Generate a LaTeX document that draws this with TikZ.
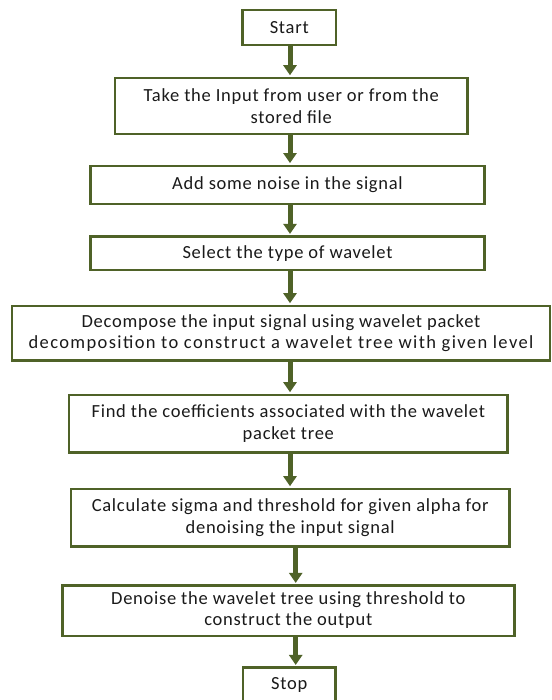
\documentclass[tikz,border=0pt]{standalone}
\usepackage{fontspec}
\setmainfont{Carlito}[LetterSpace=4]
\usetikzlibrary{arrows.meta}
\definecolor{boxgreen}{HTML}{4F6228}
\definecolor{txt}{HTML}{1A1A1A}
\begin{document}
\begin{tikzpicture}[x=1pt,y=-1pt,
  box/.style={draw=boxgreen, line width=2.5pt, rectangle, align=center,
    inner sep=0pt, text=txt, font=\fontsize{18.5}{21.7}\selectfont},
  flow/.style={draw=boxgreen, line width=5pt,
    -{Triangle[width=13pt,length=10pt]}, shorten >=1.5pt}]
\useasboundingbox (0,0) rectangle (551,700);
\fill[white] (0,0) rectangle (551,700);

\node[box, minimum width=93.5pt, minimum height=35pt] (start) at (289.25,27.5) {Start};
\node[box, minimum width=352.5pt, minimum height=56pt] (input) at (291.25,106) {Take the Input from user or from the\\stored file};
\node[box, minimum width=393.6pt, minimum height=38.3pt] (noise) at (287.5,185) {Add some noise in the signal};
\node[box, minimum width=393.6pt, minimum height=33.3pt] (type) at (287.5,253.3) {Select the type of wavelet};
\node[box, minimum width=538pt, minimum height=54.7pt] (decomp) at (281,333.3) {Decompose the input signal using wavelet packet\\{\addfontfeature{LetterSpace=7.5}decomposition to construct a wavelet tree with given level}};
\node[box, minimum width=438.7pt, minimum height=57.7pt] (coef) at (288.3,423.8) {Find the coefficients associated with the wavelet\\packet tree};
\node[box, minimum width=438.3pt, minimum height=57.7pt] (sigma) at (290.2,517.8) {Calculate sigma and threshold for given alpha for\\denoising the input signal};
\node[box, minimum width=452pt, minimum height=50.3pt] (denoise) at (288.3,610.8) {\raisebox{-2pt}{\begin{tabular}{@{}c@{}}Denoise the wavelet tree using threshold to\\construct the output\end{tabular}}};
\node[box, minimum width=92.5pt, minimum height=35pt] (stop) at (289.25,685.2) {Stop};

\coordinate (ax) at (290,0);
\coordinate (bx) at (295.7,0);

\draw[flow] (start.south -| ax) -- (input.north -| ax);
\draw[flow] (input.south -| ax) -- (noise.north -| ax);
\draw[flow] (noise.south -| ax) -- (type.north -| ax);
\draw[flow] (type.south -| ax) -- (decomp.north -| ax);
\draw[flow] (decomp.south -| ax) -- (coef.north -| ax);
\draw[flow] (coef.south -| ax) -- (sigma.north -| ax);
\draw[flow] (sigma.south -| bx) -- (denoise.north -| bx);
\draw[flow] (denoise.south -| bx) -- (stop.north -| bx);
\end{tikzpicture}
\end{document}
